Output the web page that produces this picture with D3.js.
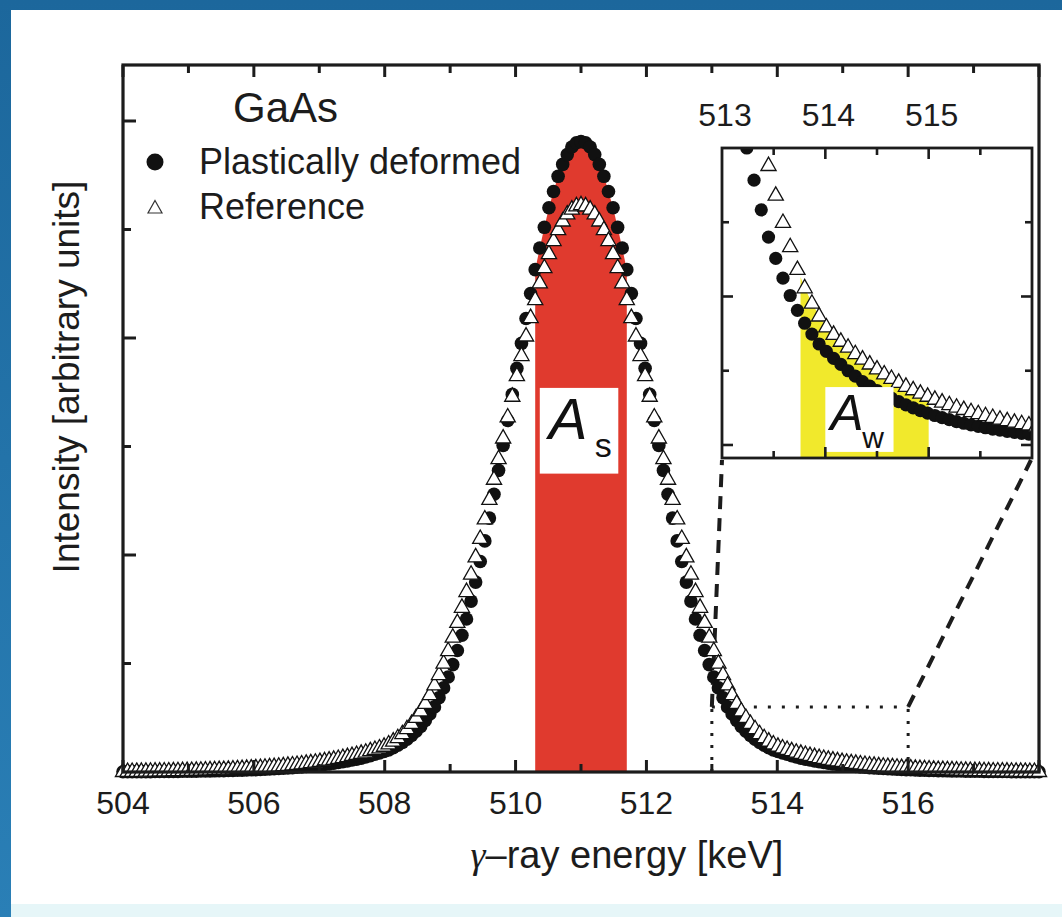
<!DOCTYPE html>
<html><head><meta charset="utf-8">
<script src="https://cdn.jsdelivr.net/npm/d3@7"></script>
<style>body{margin:0;background:#fff;} svg{display:block;}</style>
</head><body><svg id="c" width="1062" height="917"></svg>
<script>
// ---- data ----
const energies = [
504.00,504.07,504.14,504.21,504.28,504.35,504.42,504.49,504.56,504.63,
504.70,504.77,504.84,504.91,504.98,505.05,505.12,505.19,505.26,505.33,
505.40,505.47,505.54,505.61,505.68,505.75,505.82,505.89,505.96,506.03,
506.10,506.17,506.24,506.31,506.38,506.45,506.52,506.59,506.66,506.73,
506.80,506.87,506.94,507.01,507.08,507.15,507.22,507.29,507.36,507.43,
507.50,507.57,507.64,507.71,507.78,507.85,507.92,507.99,508.06,508.13,
508.20,508.27,508.34,508.41,508.48,508.55,508.62,508.69,508.76,508.83,
508.90,508.97,509.04,509.11,509.18,509.25,509.32,509.39,509.46,509.53,
509.60,509.67,509.74,509.81,509.88,509.95,510.02,510.09,510.16,510.23,
510.30,510.37,510.44,510.51,510.58,510.65,510.72,510.79,510.86,510.93,
511.00,511.07,511.14,511.21,511.28,511.35,511.42,511.49,511.56,511.63,
511.70,511.77,511.84,511.91,511.98,512.05,512.12,512.19,512.26,512.33,
512.40,512.47,512.54,512.61,512.68,512.75,512.82,512.89,512.96,513.03,
513.10,513.17,513.24,513.31,513.38,513.45,513.52,513.59,513.66,513.73,
513.80,513.87,513.94,514.01,514.08,514.15,514.22,514.29,514.36,514.43,
514.50,514.57,514.64,514.71,514.78,514.85,514.92,514.99,515.06,515.13,
515.20,515.27,515.34,515.41,515.48,515.55,515.62,515.69,515.76,515.83,
515.90,515.97,516.04,516.11,516.18,516.25,516.32,516.39,516.46,516.53,
516.60,516.67,516.74,516.81,516.88,516.95,517.02,517.09,517.16,517.23,
517.30,517.37,517.44,517.51,517.58,517.65,517.72,517.79,517.86,517.93,
518.00];

const deformed = [
0.0024,0.0026,0.0028,0.0030,0.0032,0.0034,0.0037,0.0041,0.0044,0.0047,
0.0050,0.0055,0.0059,0.0064,0.0070,0.0075,0.0080,0.0087,0.0094,0.0102,
0.0109,0.0119,0.0128,0.0138,0.0149,0.0162,0.0174,0.0188,0.0203,0.0219,
0.0236,0.0256,0.0276,0.0299,0.0322,0.0348,0.0376,0.0406,0.0439,0.0473,
0.0511,0.0552,0.0596,0.0644,0.0696,0.0751,0.0811,0.0876,0.0946,0.102,
0.110,0.119,0.128,0.139,0.150,0.163,0.175,0.189,0.204,0.224,
0.246,0.272,0.302,0.337,0.377,0.42,0.475,0.535,0.60,0.685,
0.775,0.875,0.99,1.12,1.26,1.41,1.575,1.75,1.94,2.13,
2.34,2.56,2.78,3.01,3.24,3.48,3.72,3.95,4.18,4.41,
4.63,4.83,5.02,5.20,5.35,5.49,5.60,5.69,5.76,5.80,
5.81,
5.80,5.76,5.69,5.60,5.49,5.35,5.20,5.02,4.83,4.63,
4.41,4.18,3.95,3.72,3.48,3.24,3.01,2.78,2.56,2.34,
2.13,1.94,1.75,1.575,1.41,1.26,1.12,0.99,0.875,0.775,
0.685,0.60,0.535,0.475,0.42,0.377,0.337,0.302,0.272,0.246,
0.224,0.204,0.189,0.175,0.163,0.150,0.139,0.128,0.119,0.110,
0.102,0.0946,0.0876,0.0811,0.0751,0.0696,0.0644,0.0596,0.0552,0.0511,
0.0473,0.0439,0.0406,0.0376,0.0348,0.0322,0.0299,0.0276,0.0256,0.0236,
0.0219,0.0203,0.0188,0.0174,0.0162,0.0149,0.0138,0.0128,0.0119,0.0109,
0.0102,0.0094,0.0087,0.0080,0.0075,0.0070,0.0064,0.0059,0.0055,0.0050,
0.0047,0.0044,0.0041,0.0037,0.0034,0.0032,0.0030,0.0028,0.0026,0.0024];

const reference = [
0.0066,0.0071,0.0075,0.0079,0.0085,0.0090,0.0096,0.0103,0.0109,0.0117,
0.0124,0.0132,0.0140,0.0150,0.0159,0.0169,0.0181,0.0193,0.0204,0.0218,
0.0232,0.0247,0.0263,0.0280,0.0299,0.0318,0.0339,0.0361,0.0384,0.0409,
0.0435,0.0464,0.0494,0.0526,0.0561,0.0597,0.0636,0.0677,0.0721,0.0768,
0.0819,0.0871,0.0928,0.0989,0.105,0.112,0.119,0.127,0.135,0.144,
0.154,0.164,0.174,0.185,0.198,0.210,0.224,0.239,0.261,0.287,
0.318,0.355,0.401,0.45,0.505,0.565,0.635,0.715,0.805,0.90,
1.005,1.12,1.245,1.38,1.52,1.665,1.825,1.985,2.155,2.335,
2.515,2.70,2.89,3.08,3.275,3.465,3.655,3.84,4.02,4.19,
4.355,4.51,4.65,4.78,4.90,5.00,5.08,5.145,5.19,5.22,
5.23,
5.22,5.19,5.145,5.08,5.00,4.90,4.78,4.65,4.51,4.355,
4.19,4.02,3.84,3.655,3.465,3.275,3.08,2.89,2.70,2.515,
2.335,2.155,1.985,1.825,1.665,1.52,1.38,1.245,1.12,1.005,
0.90,0.805,0.715,0.635,0.565,0.505,0.45,0.401,0.355,0.318,
0.287,0.261,0.239,0.224,0.210,0.198,0.185,0.174,0.164,0.154,
0.144,0.135,0.127,0.119,0.112,0.105,0.0989,0.0928,0.0871,0.0819,
0.0768,0.0721,0.0677,0.0636,0.0597,0.0561,0.0526,0.0494,0.0464,0.0435,
0.0409,0.0384,0.0361,0.0339,0.0318,0.0299,0.0280,0.0263,0.0247,0.0232,
0.0218,0.0204,0.0193,0.0181,0.0169,0.0159,0.0150,0.0140,0.0132,0.0124,
0.0117,0.0109,0.0103,0.0096,0.0090,0.0085,0.0079,0.0075,0.0071,0.0066];

const xMajorTicks = [504,506,508,510,512,514,516];
const xMinorTicks = [505,507,509,511,513,515,517];
const yMajorTicks = [2,4,6];
const yMinorTicks = [1,3,5];
const insetXMajor = [514,515];
const insetXMinor = [513.5,514.5,515.5];
const insetXLabels = [513,514,515];
const insetYMajor = [0,0.30];
const insetYMinor = [0.15,0.45];
const sRegion = [510.30, 511.70];
const wRegion = [513.76, 515.00];
const zoomRange = [513, 516];
const zoomTop = 0.60;
const legendLabels = ["Plastically deformed", "Reference"];
const sample = "GaAs";

// ---- layout ----
const svg = d3.select("#c");
const FONT = "'Liberation Sans', Arial, Helvetica, sans-serif";
const INK = "#1c1c1c";

// background frame (blue border)
const defs = svg.append("defs");
const bg = defs.append("linearGradient").attr("id","bg").attr("x1","0").attr("y1","0").attr("x2","0").attr("y2","1");
bg.append("stop").attr("offset","0").attr("stop-color","#1c679c");
bg.append("stop").attr("offset","1").attr("stop-color","#2a7fb6");
svg.append("rect").attr("width",1062).attr("height",917).attr("fill","url(#bg)");
svg.append("rect").attr("x",11).attr("y",10).attr("width",1051).attr("height",894).attr("fill","#ffffff");
svg.append("rect").attr("x",11).attr("y",904).attr("width",1051).attr("height",13).attr("fill","#e6f6f8");

const data = energies.map((e,i)=>({e, d:deformed[i], r:reference[i]}));

const x = d3.scaleLinear().domain([504,518]).range([123,1039]);
const y = d3.scaleLinear().domain([0,6.516]).range([772,65]);

const triPath = "M0,-8.2L7.6,5.2L-7.6,5.2Z";

// red A_s area under the deformed curve
const sPts = data.filter(p=>p.e>=sRegion[0]-1e-6 && p.e<=sRegion[1]+1e-6);
svg.append("path")
  .attr("d", d3.area().x(p=>x(p.e)).y0(y(0)).y1(p=>y(p.d))(sPts))
  .attr("fill","#e03a2e");

// zoom box (dotted) and connector (dashed)
const gz = svg.append("g").attr("stroke",INK).attr("fill","none");
gz.append("line").attr("x1",x(zoomRange[0])).attr("x2",x(zoomRange[0])).attr("y1",y(0)).attr("y2",y(zoomTop))
  .attr("stroke-width",3).attr("stroke-dasharray","3,9");
gz.append("line").attr("x1",x(zoomRange[1])).attr("x2",x(zoomRange[1])).attr("y1",y(0)).attr("y2",y(zoomTop))
  .attr("stroke-width",3).attr("stroke-dasharray","3,9");
gz.append("line").attr("x1",x(zoomRange[0])).attr("x2",x(zoomRange[1])).attr("y1",y(zoomTop)).attr("y2",y(zoomTop))
  .attr("stroke-width",3).attr("stroke-dasharray","3,11");

// main markers
const gm = svg.append("g");
gm.selectAll("circle").data(data).join("circle")
  .attr("cx",p=>x(p.e)).attr("cy",p=>y(p.d)).attr("r",6.8).attr("fill","#111");
gm.selectAll("path.t").data(data).join("path").attr("class","t")
  .attr("d",triPath).attr("transform",p=>`translate(${x(p.e)},${y(p.r)})`)
  .attr("fill","#fff").attr("stroke","#111").attr("stroke-width",1.3);

// main frame and ticks
svg.append("rect").attr("x",123).attr("y",65).attr("width",916).attr("height",707)
  .attr("fill","none").attr("stroke",INK).attr("stroke-width",3.2);
const gt = svg.append("g").attr("stroke",INK).attr("stroke-width",3);
xMajorTicks.concat([518]).forEach(v=>{
  gt.append("line").attr("x1",x(v)).attr("x2",x(v)).attr("y1",772).attr("y2",760);
  gt.append("line").attr("x1",x(v)).attr("x2",x(v)).attr("y1",65).attr("y2",77);
});
xMinorTicks.forEach(v=>{
  gt.append("line").attr("x1",x(v)).attr("x2",x(v)).attr("y1",772).attr("y2",764);
  gt.append("line").attr("x1",x(v)).attr("x2",x(v)).attr("y1",65).attr("y2",73);
});
yMajorTicks.forEach(v=>gt.append("line").attr("x1",123).attr("x2",136).attr("y1",y(v)).attr("y2",y(v)));
yMinorTicks.forEach(v=>gt.append("line").attr("x1",123).attr("x2",131).attr("y1",y(v)).attr("y2",y(v)));

// x tick labels
svg.append("g").selectAll("text").data(xMajorTicks).join("text")
  .attr("x",v=>x(v)).attr("y",814).attr("text-anchor","middle")
  .attr("font-family",FONT).attr("font-size",32).attr("fill",INK).text(v=>v);

// axis titles
const xt = svg.append("text").attr("x",627).attr("y",868).attr("text-anchor","middle")
  .attr("font-family",FONT).attr("font-size",38).attr("fill",INK);
xt.append("tspan").attr("font-family","'Liberation Serif','DejaVu Serif',serif").attr("font-style","italic").text("γ");
xt.append("tspan").text("–ray energy [keV]");
svg.append("text").attr("transform","translate(79,377) rotate(-90)").attr("text-anchor","middle")
  .attr("font-family",FONT).attr("font-size",37).attr("fill",INK).text("Intensity [arbitrary units]");

// sample label and legend
svg.append("text").attr("x",233).attr("y",122).attr("font-family",FONT).attr("font-size",42).attr("fill",INK).text(sample);
svg.append("circle").attr("cx",155).attr("cy",162).attr("r",8.5).attr("fill","#111");
svg.append("path").attr("d","M0,-7.5L7,5L-7,5Z").attr("transform","translate(155,208)")
  .attr("fill","#fff").attr("stroke","#333").attr("stroke-width",1.2);
svg.append("text").attr("x",199).attr("y",174).attr("font-family",FONT).attr("font-size",36).attr("fill",INK).text(legendLabels[0]);
svg.append("text").attr("x",199).attr("y",219).attr("font-family",FONT).attr("font-size",36).attr("fill",INK).text(legendLabels[1]);

// A_s label box
const asX0 = x(510.37), asX1 = x(511.57), asY0 = y(3.54), asY1 = y(2.75);
svg.append("rect").attr("x",asX0).attr("y",asY0).attr("width",asX1-asX0).attr("height",asY1-asY0).attr("fill","#fff");
svg.append("text").attr("x",asX0+9).attr("y",asY0+51).attr("font-family",FONT).attr("font-style","italic")
  .attr("font-size",58).attr("fill","#111").text("A");
svg.append("text").attr("x",asX0+55).attr("y",asY0+69).attr("font-family",FONT)
  .attr("font-size",34).attr("fill","#111").text("s");

// ---- inset ----
const ix = d3.scaleLinear().domain(zoomRange).range([722,1032]);
const iy = d3.scaleLinear().domain([-0.0263,0.6]).range([458,148]);

// connectors (dashed)
gz.append("line").attr("x1",x(zoomRange[0])).attr("y1",y(zoomTop)).attr("x2",722).attr("y2",460)
  .attr("stroke-width",4).attr("stroke-dasharray","13,9");
gz.append("line").attr("x1",x(zoomRange[1])).attr("y1",y(zoomTop)).attr("x2",1031).attr("y2",460)
  .attr("stroke-width",4).attr("stroke-dasharray","13,9");

svg.append("rect").attr("x",722).attr("y",148).attr("width",310).attr("height",310).attr("fill","#fff");
defs.append("clipPath").attr("id","ic").append("rect").attr("x",722).attr("y",148).attr("width",310).attr("height",310);
const gi = svg.append("g").attr("clip-path","url(#ic)");

// yellow A_w area under reference curve
function interpR(e){
  for(let i=1;i<data.length;i++){ if(data[i].e>=e){ const a=data[i-1],b=data[i]; const t=(e-a.e)/(b.e-a.e); return a.r+t*(b.r-a.r);} }
  return data[data.length-1].r;
}
const wPts = [{e:wRegion[0], r:interpR(wRegion[0])}]
  .concat(data.filter(p=>p.e>wRegion[0] && p.e<wRegion[1]))
  .concat([{e:wRegion[1], r:interpR(wRegion[1])}]);
gi.append("path").attr("d", d3.area().x(p=>ix(p.e)).y0(458).y1(p=>iy(p.r))(wPts)).attr("fill","#f1e92c");

const idata = data.filter(p=>p.e>=512.8 && p.e<=516.2);
gi.selectAll("circle").data(idata).join("circle")
  .attr("cx",p=>ix(p.e)).attr("cy",p=>iy(p.d)).attr("r",6.6).attr("fill","#111");
gi.selectAll("path.t").data(idata).join("path").attr("class","t")
  .attr("d",triPath).attr("transform",p=>`translate(${ix(p.e)},${iy(p.r)})`)
  .attr("fill","#fff").attr("stroke","#111").attr("stroke-width",1.3);

// A_w label box
const awX0 = ix(514.0), awX1 = ix(514.66), awY0 = iy(0.117), awY1 = iy(-0.014);
svg.append("rect").attr("x",awX0).attr("y",awY0).attr("width",awX1-awX0).attr("height",awY1-awY0).attr("fill","#fff");
svg.append("text").attr("x",awX0+5).attr("y",awY0+43).attr("font-family",FONT).attr("font-style","italic")
  .attr("font-size",50).attr("fill","#111").text("A");
svg.append("text").attr("x",awX0+37).attr("y",awY0+61).attr("font-family",FONT)
  .attr("font-size",30).attr("fill","#111").text("w");

// inset frame & ticks
svg.append("rect").attr("x",722).attr("y",148).attr("width",310).attr("height",310)
  .attr("fill","none").attr("stroke",INK).attr("stroke-width",2.8);
const git = svg.append("g").attr("stroke",INK).attr("stroke-width",2.6);
insetXMajor.forEach(v=>{
  git.append("line").attr("x1",ix(v)).attr("x2",ix(v)).attr("y1",148).attr("y2",159);
  git.append("line").attr("x1",ix(v)).attr("x2",ix(v)).attr("y1",458).attr("y2",447);
});
insetXMinor.forEach(v=>{
  git.append("line").attr("x1",ix(v)).attr("x2",ix(v)).attr("y1",148).attr("y2",155);
  git.append("line").attr("x1",ix(v)).attr("x2",ix(v)).attr("y1",458).attr("y2",451);
});
insetYMajor.forEach(v=>{
  git.append("line").attr("x1",722).attr("x2",733).attr("y1",iy(v)).attr("y2",iy(v));
  git.append("line").attr("x1",1032).attr("x2",1021).attr("y1",iy(v)).attr("y2",iy(v));
});
insetYMinor.forEach(v=>{
  git.append("line").attr("x1",722).attr("x2",729).attr("y1",iy(v)).attr("y2",iy(v));
  git.append("line").attr("x1",1032).attr("x2",1025).attr("y1",iy(v)).attr("y2",iy(v));
});
svg.append("g").selectAll("text").data(insetXLabels).join("text")
  .attr("x",v=>ix(v)+3).attr("y",126).attr("text-anchor","middle")
  .attr("font-family",FONT).attr("font-size",32).attr("fill",INK).text(v=>v);
</script>
</body></html>
